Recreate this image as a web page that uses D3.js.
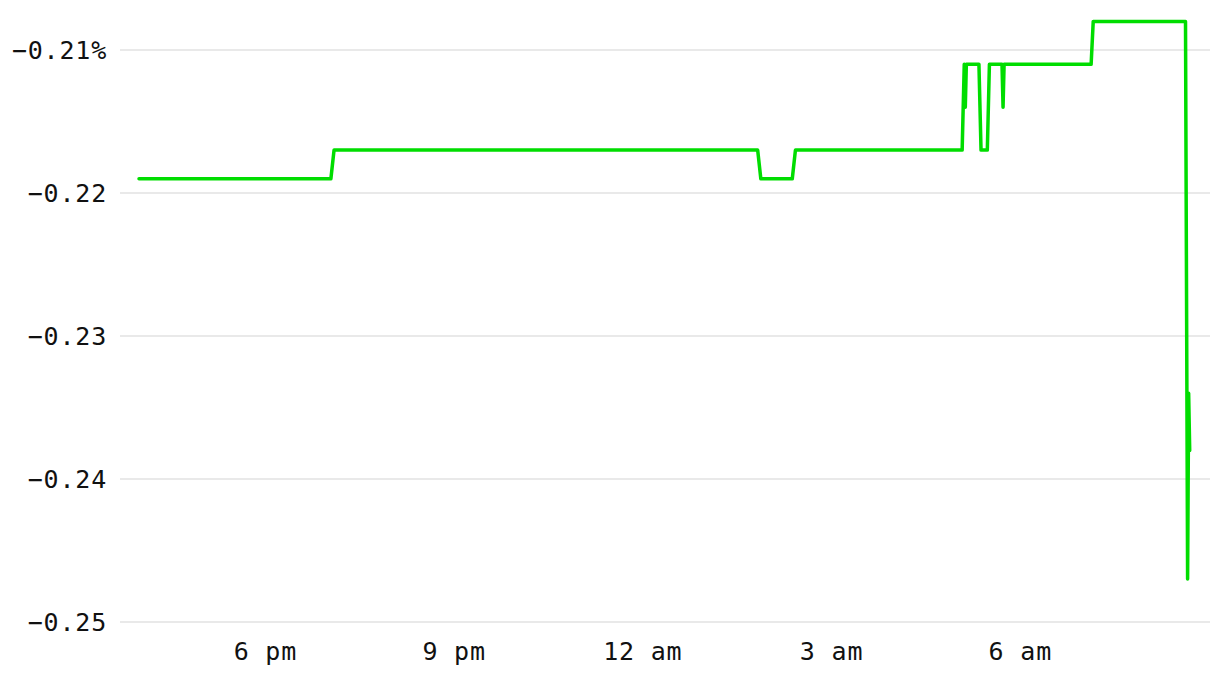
<!DOCTYPE html>
<html>
<head>
<meta charset="utf-8">
<script src="https://cdn.jsdelivr.net/npm/d3@7"></script>
<style>
  html, body { margin: 0; padding: 0; background: #fff; }
  svg text { font-family: "DejaVu Sans Mono", "Liberation Mono", monospace; }
</style>
</head>
<body>
<svg id="chart" width="1220" height="682"></svg>
<script>
// ---- data ----
const times = [
  "2024-01-01 16:00", "2024-01-01 19:03", "2024-01-01 19:06",
  "2024-01-02 01:50", "2024-01-02 01:53", "2024-01-02 02:23", "2024-01-02 02:26",
  "2024-01-02 05:05", "2024-01-02 05:07", "2024-01-02 05:08", "2024-01-02 05:09",
  "2024-01-02 05:21", "2024-01-02 05:23", "2024-01-02 05:29", "2024-01-02 05:31",
  "2024-01-02 05:43", "2024-01-02 05:44", "2024-01-02 05:45",
  "2024-01-02 07:08", "2024-01-02 07:10", "2024-01-02 08:38",
  "2024-01-02 08:40", "2024-01-02 08:41", "2024-01-02 08:42"
];
const values = [
  -0.219, -0.219, -0.217,
  -0.217, -0.219, -0.219, -0.217,
  -0.217, -0.211, -0.214, -0.211,
  -0.211, -0.217, -0.217, -0.211,
  -0.211, -0.214, -0.211,
  -0.211, -0.208, -0.208,
  -0.247, -0.234, -0.238
];
const yTicks = [-0.25, -0.24, -0.23, -0.22, -0.21];
const xTickTimes = ["2024-01-01 18:00", "2024-01-01 21:00", "2024-01-02 00:00", "2024-01-02 03:00", "2024-01-02 06:00"];
const xTickLabels = ["6 pm", "9 pm", "12 am", "3 am", "6 am"];

// ---- chart ----
const parse = d3.timeParse("%Y-%m-%d %H:%M");
const data = times.map((t, i) => ({ t: parse(t), v: values[i] }));

const svg = d3.select("#chart");
const x = d3.scaleTime()
  .domain([parse("2024-01-01 16:00"), parse("2024-01-02 08:42")])
  .range([139, 1189.7]);
const y = d3.scaleLinear().domain([-0.25, -0.21]).range([622, 50]);

// gridlines
const grid = svg.append("g");
grid.selectAll("line").data(yTicks).join("line")
  .attr("x1", 120).attr("x2", 1210)
  .attr("y1", d => y(d)).attr("y2", d => y(d))
  .attr("stroke", "#e2e2e2").attr("stroke-width", 1.5);

// y axis labels
const fmt = d3.format(".2f");
svg.append("g").selectAll("text").data(yTicks).join("text")
  .attr("x", 107).attr("y", d => y(d)).attr("dy", "0.36em")
  .attr("text-anchor", "end")
  .attr("font-size", 25).attr("letter-spacing", 0.8)
  .attr("fill", "#111")
  .text((d, i) => fmt(d).replace("-", "\u2212") + (i === yTicks.length - 1 ? "%" : ""));

// x axis labels
const xAxis = d3.axisBottom(x)
  .tickValues(xTickTimes.map(parse))
  .tickFormat((d, i) => xTickLabels[i])
  .tickSize(0).tickPadding(0);
const gx = svg.append("g").attr("transform", "translate(0,642)").call(xAxis);
gx.select(".domain").remove();
gx.selectAll("text")
  .attr("font-size", 25).attr("letter-spacing", 0.8)
  .attr("fill", "#111").attr("dy", "0.71em")
  .style("font-family", "'DejaVu Sans Mono', 'Liberation Mono', monospace");

// line
const line = d3.line().x(d => x(d.t)).y(d => y(d.v));
svg.append("path").datum(data)
  .attr("d", line)
  .attr("fill", "none")
  .attr("stroke", "#00dd00")
  .attr("stroke-width", 3.5)
  .attr("stroke-linejoin", "round")
  .attr("stroke-linecap", "round");
</script>
</body>
</html>
